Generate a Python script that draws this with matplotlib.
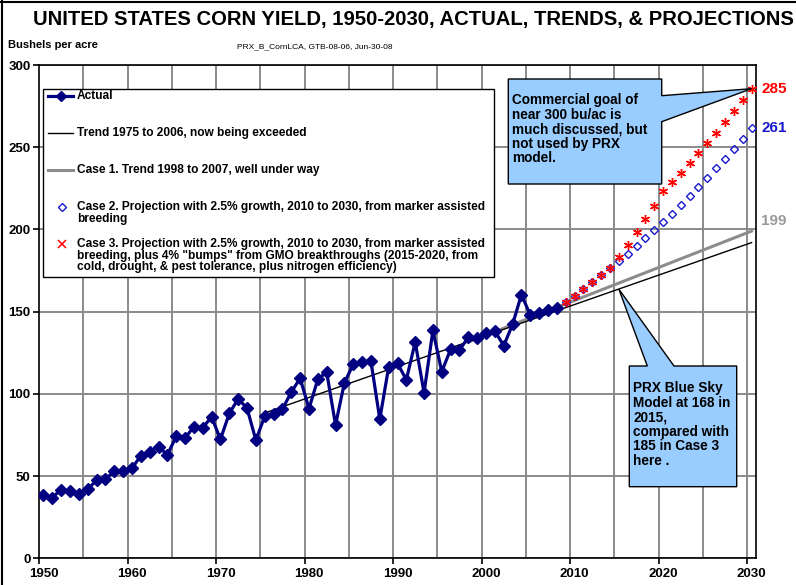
# US corn yield 1950-2030: actual, trends and projections

import numpy as np
import matplotlib.pyplot as plt
from matplotlib.patches import Rectangle, Polygon
from matplotlib.lines import Line2D
from matplotlib.transforms import Affine2D

plt.rcParams['font.family'] = ['Liberation Sans', 'DejaVu Sans']
plt.rcParams['font.weight'] = 'bold'

# actual yield, bushels per acre, 1950-2008
actual_years = np.arange(1950, 2009)
actual_yield = [38.2, 36.9, 41.8, 40.7, 39.4, 42.0, 47.4, 48.3, 52.8, 53.1,
                54.7, 62.4, 64.7, 67.9, 62.9, 74.1, 73.1, 80.1, 79.5, 85.9,
                72.4, 88.1, 97.0, 91.3, 71.9, 86.4, 88.0, 90.8, 101.0, 109.5,
                91.0, 108.9, 113.2, 81.1, 106.7, 118.0, 119.4, 119.8, 84.6, 116.3,
                118.5, 108.6, 131.5, 100.7, 138.6, 113.5, 127.1, 126.7, 134.4, 133.8,
                136.9, 138.2, 129.3, 142.2, 160.4, 147.9, 149.1, 150.7, 152.0]

# trend lines (end points)
trend_years = [1975, 2030]
trend_vals = [88.4, 192.0]
case1_years = [1998, 2030]
case1_vals = [131.5, 199.0]

# projections 2009-2030
proj_years = np.arange(2009, 2031)
case2 = [155.8, 159.7, 163.7, 167.8, 172.0, 176.3, 180.7, 185.2, 189.8, 194.7, 199.4,
         204.4, 209.5, 214.8, 220.2, 225.6, 231.3, 237.1, 243.0, 249.2, 255.3, 261.7]
case3 = [155.8, 159.7, 163.7, 167.8, 172.0, 176.3, 183.3, 190.7, 198.3, 206.2, 214.5,
         223.1, 228.6, 234.3, 240.2, 246.2, 252.4, 258.7, 265.2, 271.8, 278.6, 285.6]

label_years = np.arange(1950, 2031, 10)

W, H = 796, 585
fig = plt.figure(figsize=(W / 100, H / 100), dpi=100)
ax = fig.add_axes([39 / W, 1 - 558.3 / H, 717 / W, 493.3 / H])
# pixel coords, origin top-left, for the layout bits
px = Affine2D().scale(1 / W, -1 / H).translate(0, 1) + fig.transFigure

navy = '#000080'
gridc = '#8a8a8a'
boxc = '#99CCFF'

ax.set_xlim(1949.5, 2030.5)
ax.set_ylim(0, 300)

for b in np.arange(1954.5, 2030, 5):
    ax.axvline(b, color=gridc, lw=1.4, zorder=0)
ax.set_yticks(range(0, 301, 50))
ax.yaxis.grid(True, color=gridc, lw=1.4, zorder=0)

ax.set_xticks(label_years)
ax.set_xticks(np.arange(1949.5, 2031, 10), minor=True)
ax.tick_params(axis='x', which='major', length=0, pad=7, labelsize=9.5)
ax.tick_params(axis='x', which='minor', length=4, width=1.2, direction='out')
ax.tick_params(axis='y', length=4, width=1.2, pad=2, labelsize=9.5)
for lab in ax.get_xticklabels() + ax.get_yticklabels():
    lab.set_fontweight('bold')
for s in ax.spines.values():
    s.set_linewidth(1.2)

ax.plot(trend_years, trend_vals, color='black', lw=1.0, zorder=3)
ax.plot(case1_years, case1_vals, color='#8c8c8c', lw=2.2, zorder=2)
ax.plot(actual_years, actual_yield, color=navy, lw=2.3, marker='D', ms=6.5, zorder=4)
ax.plot(proj_years, case2, ls='none', marker='D', ms=4.5, mfc='none', mec='#1a1acc',
        mew=1.0, zorder=5)
ax.plot(proj_years, case3, ls='none', marker=(6, 2, 0), ms=6.5, mec='#ff0000',
        mew=1.0, zorder=6)

# end labels
ax.text(2031.1, case3[-1], '285', color='#ff0000', fontsize=11, fontweight='bold',
        va='center', ha='left', clip_on=False)
ax.text(2031.1, case2[-1], '261', color='#1a1acc', fontsize=11, fontweight='bold',
        va='center', ha='left', clip_on=False)
ax.text(2031.1, case1_vals[-1] + 6, '199', color='#999999', fontsize=11,
        fontweight='bold', va='center', ha='left', clip_on=False)

inv = ax.transData.inverted()


def p2d(x, y):
    return inv.transform((x, H - y))


# callout: commercial goal
tip = (proj_years[-1], case3[-1])
pts = [p2d(508.3, 79), p2d(661.7, 79), p2d(661.7, 95.7), tip,
       p2d(661.7, 121.7), p2d(661.7, 184), p2d(508.3, 184)]
ax.add_patch(Polygon(pts, closed=True, fc=boxc, ec='black', lw=1.0, zorder=7))
ax.text(512, 93, 'Commercial goal of\nnear 300 bu/ac is\nmuch discussed, but\nnot used by PRX\nmodel.',
        transform=px, fontsize=9.8, fontweight='bold', va='top', ha='left',
        linespacing=1.05, zorder=8)

# callout: PRX blue sky model
tip2 = (2015, np.interp(2015, trend_years, trend_vals))
pts2 = [p2d(629.3, 366), p2d(647.3, 366), tip2, p2d(674, 366), p2d(736.7, 366),
        p2d(736.7, 486.7), p2d(629.3, 486.7)]
ax.add_patch(Polygon(pts2, closed=True, fc=boxc, ec='black', lw=1.0, zorder=7))
ax.text(633, 381, 'PRX Blue Sky\nModel at 168 in\n2015,\ncompared with\n185 in Case 3\nhere .',
        transform=px, fontsize=9.8, fontweight='bold', va='top', ha='left',
        linespacing=1.05, zorder=8)

# legend, drawn by hand to match the spacing
fig.add_artist(Rectangle((43, 89), 451, 188, transform=px, fc='white', ec='black',
                         lw=1.0, zorder=5))
fig.add_artist(Line2D([48, 73], [95.7, 95.7], transform=px, color=navy, lw=2.3,
                      zorder=6))
fig.add_artist(Line2D([60.5], [95.7], transform=px, color=navy, marker='D', ms=5,
                      zorder=6))
fig.add_artist(Line2D([48, 73], [132.7, 132.7], transform=px, color='black', lw=1.0,
                      zorder=6))
fig.add_artist(Line2D([48, 73], [170, 170], transform=px, color='#8c8c8c', lw=2.2,
                      zorder=6))
fig.add_artist(Line2D([61.7], [206.7], transform=px, ls='none', marker='D', ms=4.5,
                      mfc='none', mec='#1a1acc', mew=1.0, zorder=6))
fig.add_artist(Line2D([61.7], [243.7], transform=px, ls='none', marker='x', ms=5.5,
                      mec='#ff0000', mew=1.1, zorder=6))

leg_labels = ['Actual',
              'Trend 1975 to 2006, now being exceeded',
              'Case 1. Trend 1998 to 2007, well under way',
              'Case 2. Projection with 2.5% growth, 2010 to 2030, from marker assisted\nbreeding',
              'Case 3. Projection with 2.5% growth, 2010 to 2030, from marker assisted\n'
              'breeding, plus 4% "bumps" from GMO breakthroughs (2015-2020, from\n'
              'cold, drought, & pest tolerance, plus nitrogen efficiency)']
leg_y = [90, 127, 164.5, 201, 238]
for lab, y in zip(leg_labels, leg_y):
    fig.text(76.7, y, lab, transform=px, fontsize=8.6, fontweight='bold',
             va='top', ha='left', linespacing=0.95, zorder=7)

# titles
fig.text(33, 20, 'UNITED STATES CORN YIELD, 1950-2030, ACTUAL, TRENDS, & PROJECTIONS',
         transform=px, fontsize=14.6, fontweight='bold', va='center', ha='left')
fig.text(8, 45, 'Bushels per acre', transform=px, fontsize=8, fontweight='bold',
         va='center', ha='left')
fig.text(237, 47, 'PRX_B_CornLCA, GTB-08-06, Jun-30-08', transform=px, fontsize=6,
         fontweight='normal', va='center', ha='left')

# outer frame (left and top edges visible in the original)
fig.add_artist(Line2D([1.5, 1.5], [0, H], transform=px, color='black', lw=1.5))
fig.add_artist(Line2D([0, W], [1.5, 1.5], transform=px, color='black', lw=1.5))

fig.savefig('out.png', dpi=100)
